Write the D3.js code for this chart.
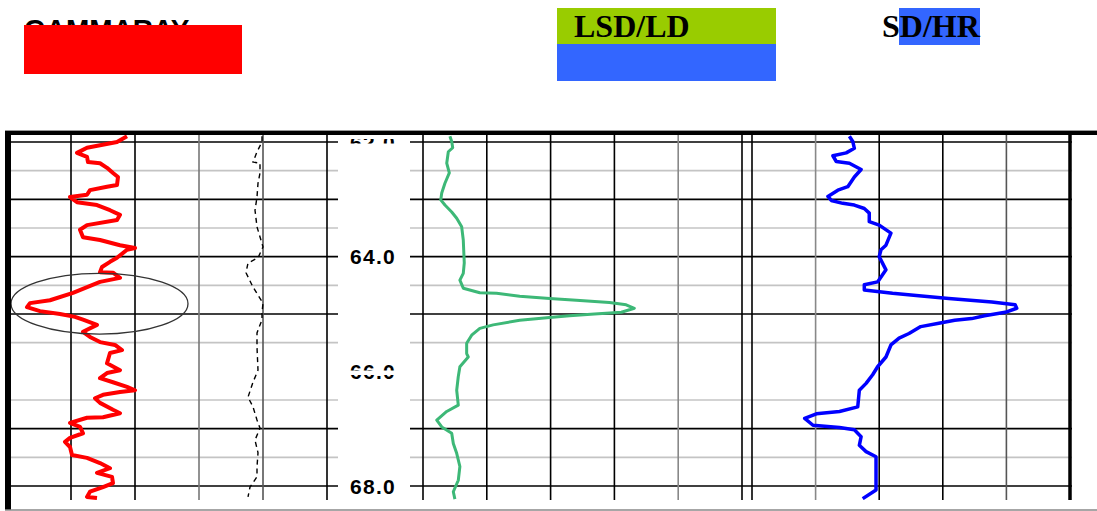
<!DOCTYPE html>
<html><head><meta charset="utf-8">
<script src="https://cdn.jsdelivr.net/npm/d3@7"></script>
<style>body{margin:0;background:#fff}svg{display:block}</style>
</head><body><svg id="c" width="1097" height="511"></svg>
<script>
// ---------- data ----------
const headerTitles = ["GAMMARAY", "LSD/LD", "SD/HR"];
const depthMajor = [62, 63, 64, 65, 67, 68];
const depthMinor = [62.5, 63.5, 64.5, 65.5, 66.5, 67.5];
const depthLabels = [62, 64, 66, 68];
const trackTicks = [0, 32, 64, 96, 128, 160];

const grDepth = [61.90,62.00,62.10,62.19,62.26,62.35,62.37,62.45,62.54,62.61,62.75,62.78,62.84,62.92,62.96,63.05,63.10,63.19,63.27,63.36,63.45,63.53,63.66,63.71,63.80,63.85,63.88,64.02,64.09,64.18,64.27,64.28,64.37,64.44,64.63,64.76,64.81,64.88,64.95,65.00,65.05,65.10,65.19,65.31,65.40,65.49,65.54,65.63,65.68,65.86,65.98,66.03,66.12,66.19,66.27,66.33,66.36,66.41,66.47,66.55,66.67,66.73,66.80,66.81,66.90,66.97,67.08,67.16,67.23,67.32,67.46,67.51,67.60,67.69,67.77,67.84,67.95,68.02,68.10,68.19,68.21];
const grValue = [60,55,40,35,40,40.5,46.5,50,53,55.5,55,50,41.5,40,31.5,35,45,51.5,56.5,55,40,36.5,38,46.5,56.5,64,60,55,51.5,47.5,46.5,53,56.5,46.5,33,21.5,11.5,10,16.5,26.5,34,38,45,38,41.5,46.5,54,57.5,51.5,50,56.5,50,46.5,53,60,64,56.5,48,44,46.5,53,56.5,48,40,31.5,36.5,38,31.5,29,31.5,32.5,40,46.5,51.5,45,52.5,53,48,41.5,40,45];

const spDepth = [61.90,62.00,62.17,62.35,62.37,62.54,62.72,62.96,63.19,63.48,63.83,64.02,64.11,64.28,64.53,64.81,64.98,65.10,65.33,65.58,65.98,66.19,66.45,66.62,66.85,66.99,67.20,67.42,67.67,67.84,68.02,68.19];
const spValue = [127.5,127.5,125,123,126.5,126.5,125.5,125,124,125,128,125.5,120.5,119.5,123,128,127.5,127.5,125,125,125.5,123,120.5,123,125,126.5,124,125.5,125,125,121.5,120.5];

const lsdDepth = [61.90,61.99,62.10,62.17,62.37,62.54,62.72,62.89,63.01,63.10,63.22,63.33,63.48,63.71,64.11,64.29,64.41,64.55,64.63,64.64,64.69,64.73,64.76,64.80,64.84,64.90,64.97,65.00,65.03,65.06,65.11,65.19,65.25,65.37,65.51,65.69,65.75,65.92,66.09,66.33,66.59,66.70,66.85,66.97,67.08,67.26,67.43,67.66,67.90,68.10,68.23];
const lsdValue = [13.5,14.4,14.9,12.7,11.9,13.2,11,9.4,8.9,11,14.4,16.9,19.4,20.2,20.7,20.2,18.5,20.2,28.5,36.9,48.5,63.5,76.9,93.5,101.9,106,99.5,86,73.5,63.5,48.5,35.2,28.5,24.4,21.9,21.9,22.7,18.5,17.7,16.9,17.7,11.9,6.9,9.4,14.4,15.2,16.9,18.5,17.7,15.2,16];

const sdDepth = [61.90,61.99,62.11,62.19,62.24,62.34,62.37,62.48,62.61,62.78,62.84,62.95,63.02,63.07,63.10,63.16,63.24,63.39,63.45,63.59,63.80,63.88,64.00,64.23,64.44,64.49,64.58,64.64,64.68,64.73,64.79,64.84,64.90,64.97,65.03,65.08,65.11,65.16,65.22,65.34,65.42,65.54,65.75,65.92,66.06,66.21,66.33,66.62,66.70,66.74,66.82,66.94,66.98,67.02,67.14,67.29,67.40,67.49,67.84,68.07,68.22];
const sdValue = [49,50.7,51.5,47.4,40.7,42.4,49,54.9,51.5,48.2,43.2,38.2,39.9,45.7,51.5,56.5,59,59,64,69.9,67.4,64.9,64,67.4,63.2,56.5,56.5,70.7,84,99,120.7,132.4,133.2,127.4,117,110.5,102,94,84.9,79,74,69.9,67.4,63.2,60.7,57.4,54,53.2,44,32.4,26.5,30.7,44,51.5,54.9,54,57.4,62.4,62.4,62.4,55.7];

// annotation ellipse (in track-1 units)
const ellipseCenter = [46.25, 64.82];
const ellipseRadii = [44.25, 0.53];

// ---------- layout ----------
const svg = d3.select("#c");
const y = d3.scaleLinear().domain([62, 68]).range([142, 486]);
const x1 = d3.scaleLinear().domain([0, 160]).range([7, 327]);
const x2 = d3.scaleLinear().domain([0, 160]).range([423, 742]);
const x3 = d3.scaleLinear().domain([0, 160]).range([752, 1070]);
const yTop = 135, yBot = 500;

const vStyle1 = ["none", "#000", "#000", "#777", "#555", "#000"];
const vStyle2 = ["#000", "#000", "#000", "#000", "#888", "#000"];
const vStyle3 = ["#000", "#888", "#000", "#000", "#555", "#000"];

const grid = svg.append("g");
[[11, 338], [410, 1072]].forEach(([a, b]) => {
  grid.selectAll(null).data(depthMinor).enter().append("line")
    .attr("x1", a).attr("x2", b).attr("y1", d => y(d)).attr("y2", d => y(d))
    .attr("stroke", "#c4c4c4").attr("stroke-width", 1.6);
  grid.selectAll(null).data(depthMajor).enter().append("line")
    .attr("x1", a).attr("x2", b).attr("y1", d => y(d)).attr("y2", d => y(d))
    .attr("stroke", "#000").attr("stroke-width", 1.6);
});
[[x1, vStyle1], [x2, vStyle2], [x3, vStyle3]].forEach(([xs, st]) => {
  grid.selectAll(null).data(trackTicks).enter().append("line")
    .attr("x1", d => xs(d)).attr("x2", d => xs(d)).attr("y1", yTop).attr("y2", yBot)
    .attr("stroke", (d, i) => st[i]).attr("stroke-width", 1.6);
});
grid.append("line").attr("x1", x3(160)).attr("x2", x3(160)).attr("y1", yTop).attr("y2", yBot)
  .attr("stroke", "#000").attr("stroke-width", 3.5);

// ---------- curves ----------
svg.append("clipPath").attr("id", "cp").append("rect")
  .attr("x", 0).attr("y", yTop).attr("width", 1097).attr("height", yBot - yTop);
const curves = svg.append("g").attr("clip-path", "url(#cp)");
function pts(ds, vs) { return ds.map((d, i) => ({ d: d, v: vs[i] })); }
function lineFor(xs) { return d3.line().x(p => xs(p.v)).y(p => y(p.d)); }

curves.append("path").datum(pts(spDepth, spValue)).attr("d", lineFor(x1))
  .attr("fill", "none").attr("stroke", "#000").attr("stroke-width", 1.4).attr("stroke-dasharray", "5,4");
curves.append("path").datum(pts(grDepth, grValue)).attr("d", lineFor(x1))
  .attr("fill", "none").attr("stroke", "#ff0000").attr("stroke-width", 4).attr("stroke-linejoin", "round");
curves.append("path").datum(pts(lsdDepth, lsdValue)).attr("d", lineFor(x2))
  .attr("fill", "none").attr("stroke", "#3db877").attr("stroke-width", 3).attr("stroke-linejoin", "round");
curves.append("path").datum(pts(sdDepth, sdValue)).attr("d", lineFor(x3))
  .attr("fill", "none").attr("stroke", "#0000ff").attr("stroke-width", 3.5).attr("stroke-linejoin", "round");

const ecx = x1(ellipseCenter[0]), ecy = y(ellipseCenter[1]);
svg.append("ellipse").attr("cx", ecx).attr("cy", ecy)
  .attr("rx", x1(ellipseCenter[0] + ellipseRadii[0]) - ecx)
  .attr("ry", y(ellipseCenter[1] + ellipseRadii[1]) - ecy)
  .attr("fill", "none").attr("stroke", "#333").attr("stroke-width", 1.3);

// ---------- depth labels ----------
const lc = svg.append("clipPath").attr("id", "lc");
[[139, 143.5], [150, 370.5], [375, 500]].forEach(([a, b]) =>
  lc.append("rect").attr("x", 338).attr("y", a).attr("width", 72).attr("height", b - a));
svg.append("g").attr("clip-path", "url(#lc)")
  .selectAll("text").data(depthLabels).enter().append("text")
  .attr("x", 373).attr("y", d => y(d)).attr("dy", "0.36em")
  .attr("text-anchor", "middle")
  .style("font-family", "'Liberation Sans', Arial, sans-serif")
  .style("font-weight", "bold").style("font-size", "21px").style("letter-spacing", "1.3px")
  .attr("fill", "#000").text(d => d.toFixed(1));

// ---------- borders ----------
svg.append("line").attr("x1", 5).attr("x2", 1097).attr("y1", 130.5).attr("y2", 130.5)
  .attr("stroke", "#999").attr("stroke-width", 1);
svg.append("rect").attr("x", 5).attr("y", 131).attr("width", 1092).attr("height", 4).attr("fill", "#000");
svg.append("rect").attr("x", 5).attr("y", 131).attr("width", 6).attr("height", 379).attr("fill", "#000");
svg.append("line").attr("x1", 5).attr("x2", 1097).attr("y1", 510).attr("y2", 510)
  .attr("stroke", "#888").attr("stroke-width", 1.5);

// ---------- header ----------
svg.append("text").attr("x", 24).attr("y", 38.5)
  .style("font-family", "'Liberation Sans', Arial, sans-serif").style("font-weight", "bold")
  .style("font-size", "28px").attr("fill", "#000").text(headerTitles[0]);
svg.append("rect").attr("x", 24).attr("y", 25).attr("width", 218).attr("height", 49).attr("fill", "#ff0000");

svg.append("rect").attr("x", 557).attr("y", 8).attr("width", 219).attr("height", 36).attr("fill", "#99cc00");
svg.append("rect").attr("x", 557).attr("y", 44).attr("width", 219).attr("height", 37).attr("fill", "#3366ff");
svg.append("text").attr("x", 574).attr("y", 37)
  .style("font-family", "'Liberation Serif', 'Times New Roman', serif").style("font-weight", "bold")
  .style("font-size", "32px").attr("fill", "#000").text(headerTitles[1]);

svg.append("rect").attr("x", 899).attr("y", 8).attr("width", 81).attr("height", 37).attr("fill", "#3366ff");
svg.append("text").attr("x", 882).attr("y", 37)
  .style("font-family", "'Liberation Serif', 'Times New Roman', serif").style("font-weight", "bold")
  .style("font-size", "32px").attr("fill", "#000").text(headerTitles[2]);
</script></body></html>
